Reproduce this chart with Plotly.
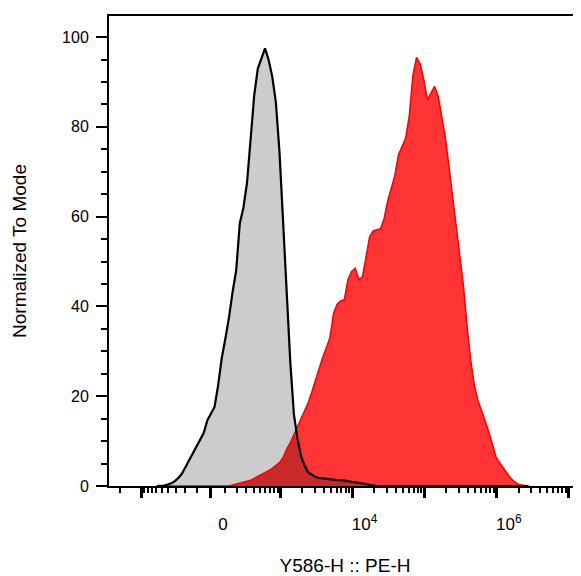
import numpy as np
import plotly.graph_objects as go

# Histogram bins on the biexponential display scale (1 unit = 1 decade at the high end)
BIN_START = -0.75
BIN_STEP = 0.05
N_BINS = 104

# Unstained / control histogram (grey, black outline), normalized to mode
GREY_COUNTS = [
    0, 0, 0.1, 0.3, 0.6, 1.1, 1.8, 2.8, 4.3, 5.7,
    7.1, 8.6, 10.2, 11.8, 14.6, 16.0, 17.6, 22.4, 28.5, 32.8,
    37.5, 43.2, 48.0, 58.5, 62.0, 67.5, 77.0, 87.0, 93.0, 95.5,
    97.5, 94.9, 91.2, 85.5, 74.5, 59.0, 42.5, 27.6, 16.0, 10.5,
    6.6, 4.5, 3.0, 2.4, 2.0, 1.8, 1.7, 1.5, 1.35, 1.3,
    1.3, 1.3, 1.25, 1.1, 0.95, 0.85, 0.75, 0.6, 0.45, 0.25,
    0.05,
] + [0] * 43

# Stained sample histogram (red), normalized to mode
RED_COUNTS = [0] * 20 + [
    0.05, 0.2, 0.4, 0.6, 0.8, 1.0, 1.3, 1.7, 2.1, 2.5,
    2.9, 3.4, 3.9, 4.5, 5.2, 6.3, 8.2, 9.6, 11.4, 13.0,
    15.2, 16.6, 18.6, 21.0, 23.6, 25.7, 28.7, 30.8, 33.0, 38.5,
    40.5, 41.3, 41.5, 46.0, 47.8, 48.5, 46.0, 46.5, 51.5, 55.5,
    56.8, 57.0, 57.3, 59.5, 63.5, 66.3, 69.2, 73.8, 75.5, 77.5,
    82.5, 91.5, 95.5, 94.0, 90.5, 86.0, 87.5, 89.0, 86.8, 82.5,
    77.5, 71.0, 64.5, 58.5, 51.5, 44.5, 35.5, 28.0, 22.5, 19.0,
    16.8, 14.6, 12.1, 9.3, 6.5, 5.2, 4.1, 2.8, 1.8, 1.0,
    0.45, 0.2, 0.05, 0,
]

# Axis ticks (raw fluorescence values)
X_MAJOR_VALUES = [-1000, 0, 1000, 1e4, 1e5, 1e6, 1e7]
X_MAJOR_LABELS = ["", "0", "", "10<sup>4</sup>", "", "10<sup>6</sup>", ""]
X_MINOR_VALUES = ([-3000, -2000] + [-m * 100 for m in range(1, 10)] + [m * 100 for m in range(1, 10)]
                  + [m * 10 ** k for k in range(3, 8) for m in range(2, 10)])
Y_MAJOR_VALUES = [0, 20, 40, 60, 80, 100]

BIEX_WIDTH = 218.0


def biex(v):
    return np.arcsinh(np.asarray(v, dtype=float) / BIEX_WIDTH) / np.log(10)


x = BIN_START + BIN_STEP * np.arange(N_BINS)
grey = np.array(GREY_COUNTS, dtype=float)
red = np.array(RED_COUNTS, dtype=float)
overlap = np.minimum(grey, red)

fig = go.Figure()
fig.add_trace(go.Scatter(x=x, y=grey, mode="lines", line=dict(width=0, color="rgba(0,0,0,0)"),
                         fill="tozeroy", fillcolor="rgb(204,204,204)", hoverinfo="skip"))
fig.add_trace(go.Scatter(x=x, y=red, mode="lines", line=dict(width=0, color="rgba(0,0,0,0)"),
                         fill="tozeroy", fillcolor="rgb(255,52,52)", hoverinfo="skip"))
fig.add_trace(go.Scatter(x=x, y=overlap, mode="lines", line=dict(width=0, color="rgba(0,0,0,0)"),
                         fill="tozeroy", fillcolor="rgb(200,42,42)", hoverinfo="skip"))
fig.add_trace(go.Scatter(x=x, y=red, mode="lines", line=dict(width=1.6, color="rgb(255,0,0)")))
fig.add_trace(go.Scatter(x=x, y=grey, mode="lines", line=dict(width=2.2, color="black")))

font = "Liberation Sans, Arial, sans-serif"
fig.update_layout(
    width=573, height=568, autosize=False,
    margin=dict(l=101, r=0, t=8, b=90, autoexpand=False),
    paper_bgcolor="white", plot_bgcolor="white",
    showlegend=False,
    font=dict(family=font, color="black"),
    xaxis=dict(
        range=[-1.4125, 5.129], automargin=False,
        showgrid=False, zeroline=False,
        showline=True, linecolor="black", linewidth=1.5, mirror=True,
        tickmode="array", tickvals=list(biex(X_MAJOR_VALUES)), ticktext=X_MAJOR_LABELS,
        ticks="outside", ticklen=10, tickwidth=2.5, tickcolor="black",
        ticklabelshift=12, ticklabelstandoff=12,
        tickfont=dict(size=17, family=font, color="black"),
        minor=dict(tickmode="array", tickvals=list(biex(X_MINOR_VALUES)),
                   ticks="outside", ticklen=5, tickwidth=1.5, tickcolor="black"),
        title=dict(text="Y586-H :: PE-H", font=dict(size=19, family=font, color="black"), standoff=37),
    ),
    yaxis=dict(
        range=[0, 104.7], automargin=False,
        showgrid=False, zeroline=False,
        showline=True, linecolor="black", linewidth=2, mirror=False,
        tickmode="array", tickvals=Y_MAJOR_VALUES,
        ticks="outside", ticklen=11, tickwidth=2.2, tickcolor="black",
        ticklabelstandoff=4,
        tickfont=dict(size=16, family=font, color="black"),
        minor=dict(dtick=5, ticks="outside", ticklen=6, tickwidth=1.5, tickcolor="black"),
        title=dict(text="Normalized To Mode", font=dict(size=19, family=font, color="black"), standoff=30),
    ),
)

fig.write_html("out.html")
